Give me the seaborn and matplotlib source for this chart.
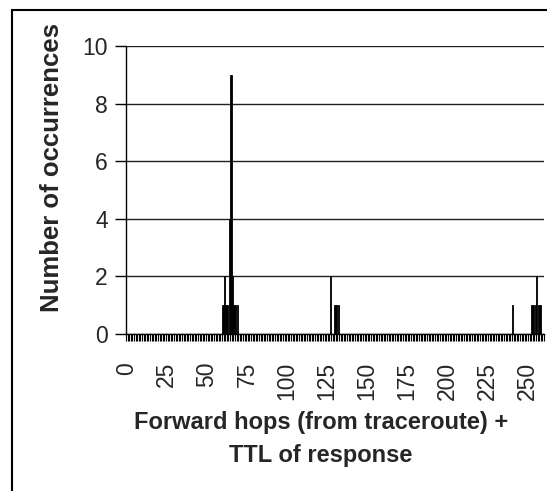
import numpy as np
import pandas as pd
import matplotlib
matplotlib.use("Agg")
import matplotlib.pyplot as plt
from matplotlib.patches import Rectangle
from matplotlib.ticker import FixedLocator
import seaborn as sns

# values
hops = [60, 61, 62, 63, 64, 65, 66, 67, 68, 69,
        127, 130, 131, 132,
        241, 253, 254, 255, 256, 257, 258]
counts = [1, 2, 1, 1, 4, 9, 2, 1, 1, 1,
          2, 1, 1, 1,
          1, 1, 1, 1, 2, 1, 1]
x_ticks = list(range(0, 251, 25))
y_ticks = [0, 2, 4, 6, 8, 10]

df = pd.DataFrame({"hops": hops, "count": counts})

sns.set_style("white")
plt.rcParams["font.family"] = ["Liberation Sans", "DejaVu Sans"]

fig = plt.figure(figsize=(5.47, 4.91), dpi=100)
ax = fig.add_axes([126 / 547, 1 - 334 / 491, (544 - 126) / 547, (334 - 46) / 491])

sns.barplot(data=df, x="hops", y="count", native_scale=True, color="black",
            width=0.8, edgecolor="black", linewidth=0.6, saturation=1, ax=ax)

ax.set_xlim(-0.5, 260.5)
ax.set_ylim(0, 10)
ax.set_yticks(y_ticks)
ax.set_yticklabels([str(v) for v in y_ticks], fontsize=16.5)
ax.set_xticks(x_ticks)
ax.set_xticklabels([str(v) for v in x_ticks], rotation=90, fontsize=16.5)
ax.xaxis.set_minor_locator(FixedLocator(np.arange(-0.5, 261, 1)))
ax.tick_params(axis="x", which="major", length=0, pad=20)
ax.tick_params(axis="x", which="minor", direction="out", length=5, width=0.8, color="black", bottom=True)
ax.tick_params(axis="y", direction="out", length=8, width=1, color="black", pad=5, left=True)
ax.grid(axis="y", color="#202020", linewidth=1)
ax.set_axisbelow(True)
ax.set_xlabel("")
ax.set_ylabel("")

for side in ["top", "right"]:
    ax.spines[side].set_visible(False)
for side in ["left", "bottom"]:
    ax.spines[side].set_color("black")
    ax.spines[side].set_linewidth(1)

fig.text(52 / 547, 1 - 168 / 491, "Number of occurrences", rotation=90,
         ha="center", va="center", fontsize=18.5, fontweight="bold")
fig.text(321 / 547, 1 - 439 / 491, "Forward hops (from traceroute) +\nTTL of response",
         ha="center", va="center", fontsize=17, fontweight="bold",
         multialignment="center", linespacing=1.6)

fig.patches.append(Rectangle((12 / 547, -0.1), 1.1, 1.1 - 10 / 491,
                             transform=fig.transFigure, fill=False,
                             edgecolor="black", linewidth=1.5))

fig.savefig("out.png", dpi=100)
